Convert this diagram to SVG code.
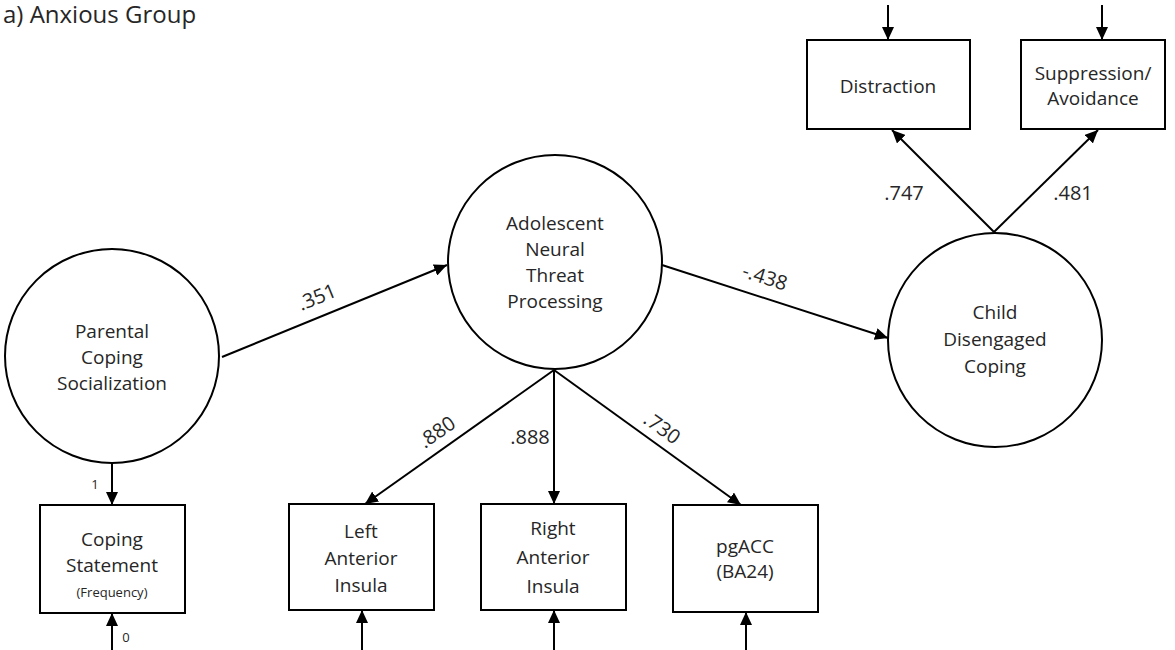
<svg xmlns="http://www.w3.org/2000/svg" width="1175" height="650" viewBox="0 0 1175 650">
<defs>
<marker id="arr" markerUnits="userSpaceOnUse" markerWidth="14" markerHeight="12" refX="13" refY="6" orient="auto">
<path d="M0,0 L13,6 L0,12 Z" fill="#000"/>
</marker>
<style>
.n{fill:#fff;stroke:#000;stroke-width:2}
.t{font-family:"Open Sans","Noto Sans",sans-serif;font-size:19px;fill:#262626;text-anchor:middle}
.s{font-family:"Open Sans","Noto Sans",sans-serif;font-size:13px;fill:#262626;text-anchor:middle}
.l{font-family:"Open Sans","Noto Sans",sans-serif;font-size:20px;fill:#262626;text-anchor:middle}
.c{stroke:#000;stroke-width:2;fill:none;marker-end:url(#arr)}
</style>
</defs>
<rect width="1175" height="650" fill="#fff"/>
<text x="3" y="23" font-family="'Open Sans','Noto Sans',sans-serif" font-size="24" fill="#262626">a) Anxious Group</text>

<g id="connectors">
<line class="c" x1="222" y1="357" x2="447" y2="265"/>
<line class="c" x1="662" y1="265" x2="888" y2="338"/>
<line class="c" x1="994" y1="232" x2="892" y2="130"/>
<line class="c" x1="994" y1="232" x2="1098" y2="130"/>
<line class="c" x1="888" y1="5" x2="888" y2="40"/>
<line class="c" x1="1102" y1="5" x2="1102" y2="40"/>
<line class="c" x1="554" y1="370" x2="365" y2="504"/>
<line class="c" x1="554" y1="370" x2="554" y2="504"/>
<line class="c" x1="554" y1="370" x2="741" y2="505"/>
<line class="c" x1="112" y1="463" x2="112" y2="505"/>
<line class="c" x1="112" y1="650" x2="112" y2="613"/>
<line class="c" x1="362" y1="650" x2="362" y2="610"/>
<line class="c" x1="554" y1="650" x2="554" y2="610"/>
<line class="c" x1="746" y1="650" x2="746" y2="612"/>
<text class="l" x="317" y="304" transform="rotate(-22 317 297)">.351</text>
<text class="l" x="765" y="284" transform="rotate(18 765 277)">-.438</text>
<text class="l" x="904" y="200">.747</text>
<text class="l" x="1073" y="200">.481</text>
<text class="l" x="437" y="439" transform="rotate(-35 437 432)">.880</text>
<text class="l" x="530" y="444">.888</text>
<text class="l" x="662" y="435" transform="rotate(36 662 428)">.730</text>
<text class="s" x="95" y="489">1</text>
<text class="s" x="126" y="642">0</text>
</g>

<g id="parental">
<circle class="n" cx="112" cy="356" r="107"/>
<text class="t" x="112" y="338">Parental</text>
<text class="t" x="112" y="364">Coping</text>
<text class="t" x="112" y="390">Socialization</text>
</g>
<g id="adolescent">
<circle class="n" cx="555" cy="262" r="107"/>
<text class="t" x="555" y="230">Adolescent</text>
<text class="t" x="555" y="256">Neural</text>
<text class="t" x="555" y="282">Threat</text>
<text class="t" x="555" y="308">Processing</text>
</g>
<g id="child">
<circle class="n" cx="995" cy="340" r="107"/>
<text class="t" x="995" y="319">Child</text>
<text class="t" x="995" y="346">Disengaged</text>
<text class="t" x="995" y="373">Coping</text>
</g>
<g id="distraction">
<rect class="n" x="807" y="40" width="163" height="89"/>
<text class="t" x="888" y="93">Distraction</text>
</g>
<g id="suppression">
<rect class="n" x="1021" y="40" width="144" height="89"/>
<text class="t" x="1093" y="80">Suppression/</text>
<text class="t" x="1093" y="105">Avoidance</text>
</g>
<g id="coping-statement">
<rect class="n" x="40" y="505" width="145" height="108"/>
<text class="t" x="112" y="546">Coping</text>
<text class="t" x="112" y="572">Statement</text>
<text class="s" x="112" y="597">(Frequency)</text>
</g>
<g id="left-insula">
<rect class="n" x="289" y="504" width="145" height="106"/>
<text class="t" x="361" y="538">Left</text>
<text class="t" x="361" y="565">Anterior</text>
<text class="t" x="361" y="592">Insula</text>
</g>
<g id="right-insula">
<rect class="n" x="481" y="504" width="145" height="106"/>
<text class="t" x="553" y="535">Right</text>
<text class="t" x="553" y="564">Anterior</text>
<text class="t" x="553" y="593">Insula</text>
</g>
<g id="pgacc">
<rect class="n" x="673" y="505" width="145" height="107"/>
<text class="t" x="745" y="553">pgACC</text>
<text class="t" x="745" y="578">(BA24)</text>
</g>
</svg>
